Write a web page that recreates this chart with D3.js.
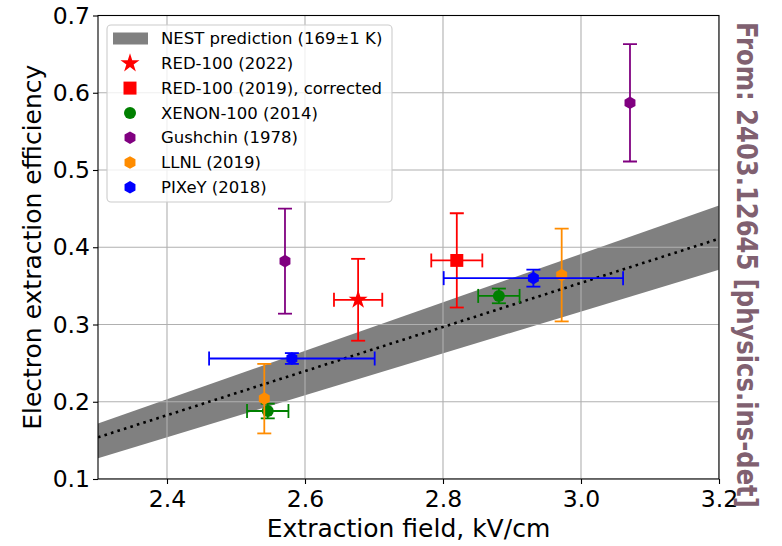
<!DOCTYPE html>
<html>
<head>
<meta charset="utf-8">
<script src="https://cdn.jsdelivr.net/npm/d3@7"></script>
<style>
  html, body { margin: 0; padding: 0; background: #fff; }
  svg { display: block; }
  text { font-family: "DejaVu Sans", sans-serif; }
</style>
</head>
<body>
<svg id="chart" width="782" height="546"></svg>
<script>
// ---------- data ----------
const xTicks = [2.4, 2.6, 2.8, 3.0, 3.2];
const yTicks = [0.1, 0.2, 0.3, 0.4, 0.5, 0.6, 0.7];

// NEST prediction band (169±1 K)
const nestField = [2.3, 3.2];
const nestLow  = [0.127, 0.371];
const nestMid  = [0.154, 0.411];
const nestHigh = [0.172, 0.454];

// RED-100 (2022)
const red22X = [2.677], red22Y = [0.332], red22Xerr = [0.035], red22Yerr = [0.053];
// RED-100 (2019), corrected
const red19X = [2.820], red19Y = [0.383], red19Xerr = [0.037], red19Yerr = [0.061];
// XENON-100 (2014)
const xenonX = [2.546, 2.881], xenonY = [0.188, 0.337], xenonXerr = [0.030, 0.030], xenonYerr = [0.0095, 0.0095];
// Gushchin (1978)
const gushX = [2.571, 3.071], gushY = [0.382, 0.587], gushXerr = [0, 0], gushYerr = [0.068, 0.076];
// LLNL (2019)
const llnlX = [2.541, 2.972], llnlY = [0.204, 0.364], llnlXerr = [0, 0], llnlYerr = [0.045, 0.060];
// PIXeY (2018)
const pixeyX = [2.581, 2.931], pixeyY = [0.256, 0.360], pixeyXerr = [0.120, 0.130], pixeyYerr = [0.007, 0.011];

const seriesNames = ["RED-100 (2022)", "RED-100 (2019), corrected", "XENON-100 (2014)", "Gushchin (1978)", "LLNL (2019)", "PIXeY (2018)"];
const seriesColors = ["#ff0000", "#ff0000", "#008000", "#800080", "#ff8c00", "#0000ff"];
const seriesMarkers = ["star", "square", "circle", "hexagon", "hexagon", "hexagon"];
const seriesData = [
  [red22X, red22Y, red22Xerr, red22Yerr],
  [red19X, red19Y, red19Xerr, red19Yerr],
  [xenonX, xenonY, xenonXerr, xenonYerr],
  [gushX, gushY, gushXerr, gushYerr],
  [llnlX, llnlY, llnlXerr, llnlYerr],
  [pixeyX, pixeyY, pixeyXerr, pixeyYerr]
];
const nestLabel = "NEST prediction (169±1 K)";

// ---------- layout ----------
const svg = d3.select("#chart");
const L = 98, R = 719, T = 15.5, B = 479;
const x = d3.scaleLinear().domain([2.3, 3.2]).range([L, R]);
const y = d3.scaleLinear().domain([0.1, 0.7]).range([B, T]);

svg.append("defs").append("clipPath").attr("id", "clip")
  .append("rect").attr("x", L).attr("y", T).attr("width", R - L).attr("height", B - T);

const plot = svg.append("g").attr("clip-path", "url(#clip)");

// band
const bandData = nestField.map((f, i) => ({f, lo: nestLow[i], hi: nestHigh[i], mid: nestMid[i]}));
plot.append("path").datum(bandData)
  .attr("d", d3.area().x(d => x(d.f)).y0(d => y(d.lo)).y1(d => y(d.hi)))
  .attr("fill", "#808080");

// grid (above band)
const grid = plot.append("g");
grid.selectAll("line.gx").data(xTicks).enter().append("line")
  .attr("x1", d => x(d)).attr("x2", d => x(d)).attr("y1", T).attr("y2", B)
  .attr("stroke", "#b0b0b0").attr("stroke-width", 1.1);
grid.selectAll("line.gy").data(yTicks).enter().append("line")
  .attr("x1", L).attr("x2", R).attr("y1", d => y(d)).attr("y2", d => y(d))
  .attr("stroke", "#b0b0b0").attr("stroke-width", 1.1);

// dotted mid line
plot.append("path").datum(bandData)
  .attr("d", d3.line().x(d => x(d.f)).y(d => y(d.mid)))
  .attr("fill", "none").attr("stroke", "#000").attr("stroke-width", 2.6)
  .attr("stroke-dasharray", "2.6,4.2");

// marker path generator
function markerPath(type, s) {
  if (type === "circle") return d3.symbol().type(d3.symbolCircle).size(Math.PI * s * s)();
  if (type === "square") return `M${-s},${-s}H${s}V${s}H${-s}Z`;
  if (type === "hexagon") {
    const pts = d3.range(6).map(k => { const a = Math.PI / 2 + k * Math.PI / 3; return [s * Math.cos(a), -s * Math.sin(a)]; });
    return "M" + pts.map(p => p.join(",")).join("L") + "Z";
  }
  if (type === "star") {
    const ri = s * 0.382;
    const pts = d3.range(10).map(k => { const a = -Math.PI / 2 + k * Math.PI / 5; const r = k % 2 ? ri : s; return [r * Math.cos(a), r * Math.sin(a)]; });
    return "M" + pts.map(p => p.join(",")).join("L") + "Z";
  }
}
const markerSize = {star: 10, square: 6.5, circle: 6, hexagon: 6.3};
const cap = 7;

// error bars + markers
seriesData.forEach((sd, si) => {
  const [xs, ys, xe, ye] = sd;
  const col = seriesColors[si];
  const g = plot.append("g").attr("stroke", col).attr("stroke-width", 1.8).attr("fill", col);
  xs.forEach((xv, i) => {
    const cx = x(xv), cy = y(ys[i]);
    if (xe[i] > 0) {
      const x0 = x(xv - xe[i]), x1 = x(xv + xe[i]);
      g.append("line").attr("x1", x0).attr("x2", x1).attr("y1", cy).attr("y2", cy);
      g.append("line").attr("x1", x0).attr("x2", x0).attr("y1", cy - cap).attr("y2", cy + cap);
      g.append("line").attr("x1", x1).attr("x2", x1).attr("y1", cy - cap).attr("y2", cy + cap);
    }
    if (ye[i] > 0) {
      const y0 = y(ys[i] - ye[i]), y1 = y(ys[i] + ye[i]);
      g.append("line").attr("x1", cx).attr("x2", cx).attr("y1", y0).attr("y2", y1);
      g.append("line").attr("x1", cx - cap).attr("x2", cx + cap).attr("y1", y0).attr("y2", y0);
      g.append("line").attr("x1", cx - cap).attr("x2", cx + cap).attr("y1", y1).attr("y2", y1);
    }
  });
  xs.forEach((xv, i) => {
    g.append("path").attr("d", markerPath(seriesMarkers[si], markerSize[seriesMarkers[si]]))
      .attr("transform", `translate(${x(xv)},${y(ys[i])})`).attr("stroke", "none");
  });
});

// axes
const xAxis = svg.append("g").attr("transform", `translate(0,${B})`)
  .call(d3.axisBottom(x).tickValues(xTicks).tickFormat(d3.format(".1f")).tickSize(5).tickSizeOuter(0));
const yAxis = svg.append("g").attr("transform", `translate(${L},0)`)
  .call(d3.axisLeft(y).tickValues(yTicks).tickFormat(d3.format(".1f")).tickSize(5).tickSizeOuter(0));
[xAxis, yAxis].forEach(a => {
  a.select(".domain").remove();
  a.selectAll("line").attr("stroke", "#000").attr("stroke-width", 1.1);
  a.selectAll("text").attr("font-family", "DejaVu Sans").attr("font-size", 23.5).attr("fill", "#000");
});
xAxis.selectAll("text").attr("dy", "0.95em").attr("y", 6);
yAxis.selectAll("text").attr("x", -8);

// frame
svg.append("rect").attr("x", L).attr("y", T).attr("width", R - L).attr("height", B - T)
  .attr("fill", "none").attr("stroke", "#000").attr("stroke-width", 1.1);

// axis labels
svg.append("text").attr("x", (L + R) / 2).attr("y", 537).attr("text-anchor", "middle")
  .attr("font-size", 25).text("Extraction field, kV/cm");
svg.append("text").attr("transform", `translate(41,${(T + B) / 2}) rotate(-90)`).attr("text-anchor", "middle")
  .attr("font-size", 25).text("Electron extraction efficiency");

// legend
const lg = svg.append("g");
lg.append("rect").attr("x", 107).attr("y", 25).attr("width", 285).attr("height", 177).attr("rx", 4)
  .attr("fill", "#fff").attr("fill-opacity", 0.8).attr("stroke", "#cccccc").attr("stroke-width", 1.1);
const rowY = i => 38.5 + i * 24.8;
lg.append("rect").attr("x", 113).attr("y", rowY(0) - 6).attr("width", 35).attr("height", 12).attr("fill", "#808080");
lg.append("text").attr("x", 161).attr("y", rowY(0)).attr("dy", "0.35em").attr("font-size", 16.5).text(nestLabel);
seriesNames.forEach((n, i) => {
  const yy = rowY(i + 1);
  lg.append("path").attr("d", markerPath(seriesMarkers[i], markerSize[seriesMarkers[i]]))
    .attr("transform", `translate(130,${yy})`).attr("fill", seriesColors[i]);
  lg.append("text").attr("x", 161).attr("y", yy).attr("dy", "0.35em").attr("font-size", 16.5).text(n);
});

// watermark (condensed via scale along the text direction)
const wm = svg.append("text")
  .attr("font-family", "Roboto").attr("font-weight", "bold").attr("font-size", 29)
  .attr("fill", "#806070")
  .text("From: 2403.12645 [physics.ins-det]");
const wmLen = wm.node().getComputedTextLength() || 560;
const wmK = 486 / wmLen;
wm.attr("transform", `translate(737,22) rotate(90) scale(${wmK},1)`);
</script>
</body>
</html>
